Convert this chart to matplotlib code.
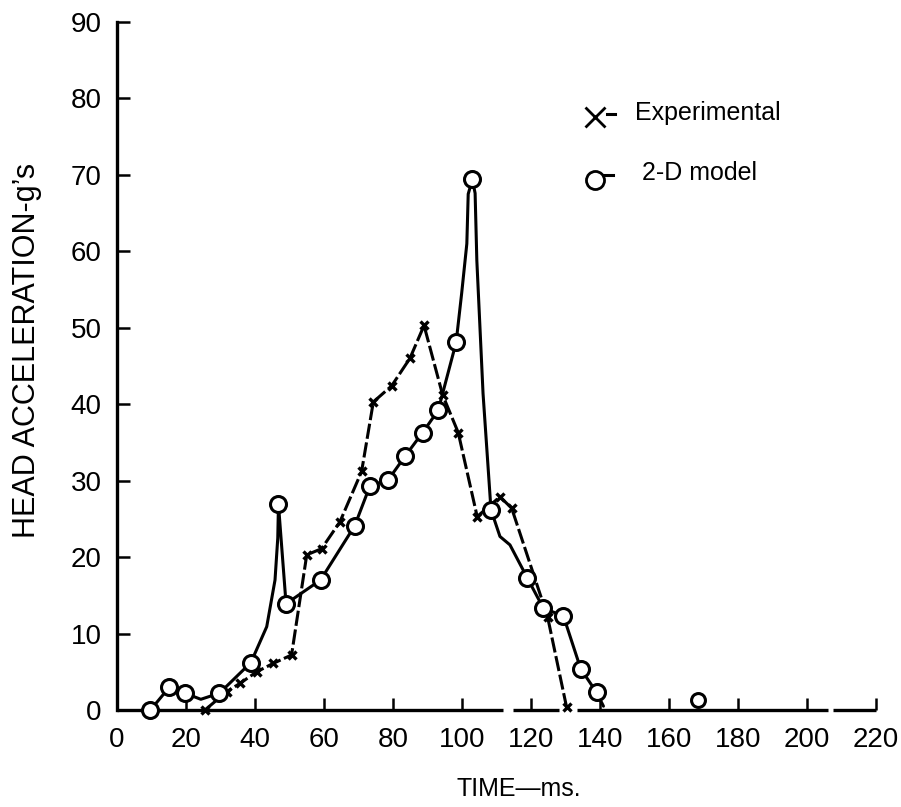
import numpy as np
import matplotlib
matplotlib.use('Agg')
import matplotlib.pyplot as plt

plt.rcParams['font.family'] = ['Liberation Sans', 'DejaVu Sans']

##
# Data
##
# 2-D model: circle positions (time in ms, acceleration in g)
model_t = [9.7, 15.2, 19.7, 29.7, 38.8, 46.8, 49.0, 59.0, 68.9, 73.3, 78.6,
           83.5, 88.6, 93.1, 98.3, 103.0, 108.4, 118.9, 123.6, 129.4, 134.4, 139.0]
model_g = [0.0, 3.0, 2.2, 2.2, 6.2, 26.9, 13.9, 17.0, 24.1, 29.3, 30.1,
           33.2, 36.3, 39.2, 48.1, 69.4, 26.2, 17.3, 13.3, 12.3, 5.4, 2.3]
# lone circle far out on the time axis
model_extra_t = [168.3]
model_extra_g = [1.3]

# traced path of the hand-drawn 2-D model curve
curve_t = [9.7, 15.2, 19.7, 24.3, 29.7, 38.8, 43.4, 45.8, 46.6, 46.8, 49.0, 59.0,
           68.9, 73.3, 78.6, 83.5, 88.6, 93.1, 98.3, 99.9, 101.4, 101.8, 103.0,
           103.8, 104.3, 106.1, 108.4, 111.0, 113.9, 118.9, 123.6, 129.4, 134.4,
           139.0, 141.0]
curve_g = [0.0, 3.0, 2.2, 1.4, 2.2, 6.2, 10.9, 17.0, 22.5, 26.9, 13.9, 17.0,
           24.1, 29.3, 30.1, 33.2, 36.3, 39.2, 48.1, 54.5, 61.0, 67.5, 69.4,
           67.6, 58.8, 41.4, 26.2, 22.7, 21.6, 17.3, 13.3, 12.3, 5.4,
           2.3, 0.5]

# experimental points
exp_t = [25.5, 31.8, 35.7, 40.5, 45.3, 50.6, 55.0, 59.3, 64.6, 70.9, 74.3,
         79.6, 84.9, 89.0, 94.4, 98.9, 104.4, 111.0, 114.4, 124.8, 130.3]
exp_g = [0.0, 2.4, 3.5, 5.0, 6.1, 7.2, 20.3, 21.1, 24.6, 31.2, 40.3,
         42.4, 46.0, 50.3, 41.2, 36.3, 25.3, 27.9, 26.4, 12.2, 0.4]

x_ticks = [0, 20, 40, 60, 80, 100, 120, 140, 160, 180, 200, 220]
y_ticks = [0, 10, 20, 30, 40, 50, 60, 70, 80, 90]

# pieces of the (broken) time axis line in the scan
axis_pieces = [(0, 111.9), (114.8, 128.1), (133.3, 206.1), (207.5, 220)]

##
# Plot
##
fig = plt.figure(figsize=(9.01, 8.07), dpi=100)
ax = fig.add_axes([117 / 901, 97 / 807, 759 / 901, 688 / 807])

ax.plot(curve_t, curve_g, color='k', lw=2.2, solid_capstyle='round',
        solid_joinstyle='round', zorder=2)
ax.plot(model_t, model_g, 'o', ms=11.5, mfc='white', mec='k', mew=2.2,
        zorder=4, clip_on=False)
ax.plot(model_extra_t, model_extra_g, 'o', ms=10, mfc='white', mec='k', mew=2.2,
        zorder=4, clip_on=False)

ax.plot(exp_t, exp_g, color='k', lw=2.2, dashes=[5, 1.2], marker='x', ms=6,
        mew=2.4, zorder=3, clip_on=False)

ax.set_xlim(0, 220)
ax.set_ylim(0, 90)
ax.set_xticks(x_ticks)
ax.set_yticks(y_ticks)
ax.tick_params(axis='both', direction='in', length=9, width=1.8, colors='k',
               labelsize=20)
ax.tick_params(axis='x', pad=12)
ax.tick_params(axis='y', pad=11)

for side in ['top', 'right', 'bottom']:
    ax.spines[side].set_visible(False)
ax.spines['left'].set_linewidth(2.4)

for x0, x1 in axis_pieces:
    ax.plot([x0, x1], [0, 0], color='k', lw=2.4, solid_capstyle='butt',
            transform=ax.get_xaxis_transform(), clip_on=False, zorder=1)

ax.set_ylabel("HEAD ACCELERATION-g’s", fontsize=22)
ax.yaxis.set_label_coords(-0.099, 0.522)
ax.set_xlabel('TIME—ms.', fontsize=18)
ax.xaxis.set_label_coords(0.53, -0.098)

# hand-made legend
ax.plot([0.630], [0.862], 'x', ms=15, mew=2.0, color='k', transform=ax.transAxes,
        clip_on=False)
ax.plot([0.645, 0.656], [0.866, 0.866], color='k', lw=2.2, transform=ax.transAxes)
ax.text(0.6825, 0.868, 'Experimental', fontsize=18, va='center', ha='left',
        transform=ax.transAxes)
ax.plot([0.630], [0.770], 'o', ms=13, mfc='white', mec='k', mew=2.0,
        transform=ax.transAxes, clip_on=False)
ax.plot([0.642, 0.654], [0.777, 0.777], color='k', lw=2.2, transform=ax.transAxes)
ax.text(0.692, 0.7805, '2-D model', fontsize=18, va='center', ha='left',
        transform=ax.transAxes)

fig.savefig('out.png', dpi=100, facecolor='white')
